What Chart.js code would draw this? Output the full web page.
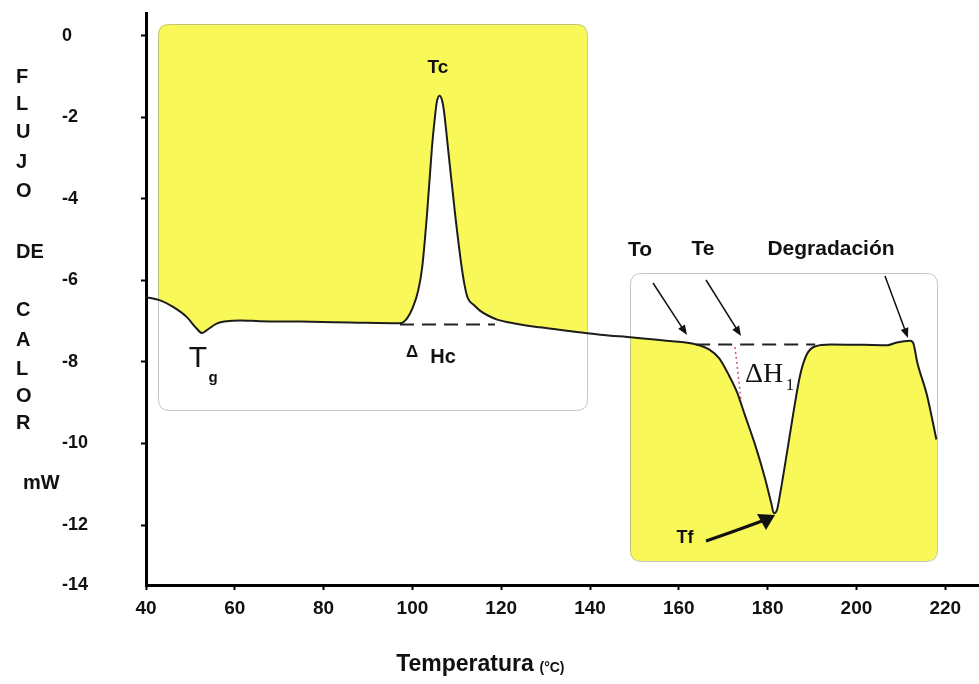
<!DOCTYPE html>
<html><head><meta charset="utf-8">
<script src="https://cdn.jsdelivr.net/npm/chart.js@4.4.1/dist/chart.umd.min.js"></script>
<style>html,body{margin:0;padding:0;background:#fff;}#wrap{width:979px;height:684px;}</style>
</head><body><div id="wrap"><canvas id="c" width="979" height="684"></canvas></div>
<script>
// ---- data ----
const temperatures = [40.0, 43.2, 46.1, 49.2, 51.4, 52.6, 53.7, 55.9, 58.2, 61.2, 65.7, 74.7, 86.0, 97.2, 98.8, 100.1, 101.3, 102.2, 103.3, 104.4, 105.1, 105.5, 106.1, 106.7, 107.1, 108.0, 109.6, 111.1, 111.9, 112.5, 113.9, 115.2, 117.0, 119.1, 122.7, 128.7, 136.2, 142.3, 149.7, 157.1, 163.9, 166.8, 169.1, 171.3, 173.1, 174.9, 177.2, 179.4, 180.8, 181.4, 182.1, 182.8, 184.3, 185.7, 187.3, 188.7, 190.6, 194.3, 201.7, 206.9, 209.1, 212.1, 212.8, 213.7, 215.9, 218.0];
const heatFlow = [-6.41, -6.49, -6.65, -6.90, -7.18, -7.29, -7.22, -7.06, -7.00, -6.98, -7.00, -7.01, -7.03, -7.05, -6.93, -6.66, -6.25, -5.68, -4.36, -2.74, -1.96, -1.62, -1.47, -1.59, -1.84, -2.74, -4.36, -5.68, -6.20, -6.44, -6.61, -6.74, -6.86, -6.96, -7.05, -7.15, -7.25, -7.33, -7.40, -7.48, -7.57, -7.69, -7.91, -8.33, -8.74, -9.31, -10.04, -10.85, -11.46, -11.71, -11.63, -11.24, -10.26, -9.31, -8.33, -7.84, -7.62, -7.57, -7.58, -7.59, -7.52, -7.48, -7.54, -8.01, -8.82, -9.90];
const crystBaseTemps = [97.2, 118.6];
const crystBaseFlow = [-7.08, -7.08];
const meltBaseTemps = [163.9, 190.7];
const meltBaseFlow = [-7.57, -7.57];
const xTickValues = [40, 60, 80, 100, 120, 140, 160, 180, 200, 220];
const yTickValues = [0, -2, -4, -6, -8, -10, -12, -14];
const yTickLabels = ['0', '-2', '-4', '-6', '-8', '-10', '-12', '-14'];
const yTitleLetters = ['F', 'L', 'U', 'J', 'O', 'DE', 'C', 'A', 'L', 'O', 'R', 'mW'];

const SANS = '"Liberation Sans", Arial, sans-serif';
const SERIF = '"Liberation Serif", "Times New Roman", serif';
const YELLOW = 'rgb(248,248,88)';

function pts(xs, ys) { return xs.map((x, i) => ({x: x, y: ys[i]})); }

function rrPath(ctx, x, y, w, h, r) {
  ctx.beginPath();
  ctx.moveTo(x + r, y);
  ctx.lineTo(x + w - r, y);
  ctx.quadraticCurveTo(x + w, y, x + w, y + r);
  ctx.lineTo(x + w, y + h - r);
  ctx.quadraticCurveTo(x + w, y + h, x + w - r, y + h);
  ctx.lineTo(x + r, y + h);
  ctx.quadraticCurveTo(x, y + h, x, y + h - r);
  ctx.lineTo(x, y + r);
  ctx.quadraticCurveTo(x, y, x + r, y);
  ctx.closePath();
}

const panels = [
  {x: 158, y: 24, w: 429, h: 386, above: true},
  {x: 630, y: 273, w: 307, h: 288, above: false}
];

const panelPlugin = {
  id: 'panels',
  beforeDatasetsDraw(chart) {
    const ctx = chart.ctx;
    const line = chart.getDatasetMeta(0).dataset;
    line.updateControlPoints(chart.chartArea, 'x');
    const p0 = line.points[0], pN = line.points[line.points.length - 1];
    panels.forEach(p => {
      ctx.save();
      rrPath(ctx, p.x, p.y, p.w, p.h, 11);
      ctx.fillStyle = '#fff';
      ctx.fill();
      rrPath(ctx, p.x, p.y, p.w, p.h, 11);
      ctx.clip();
      ctx.beginPath();
      line.path(ctx);
      const edge = p.above ? p.y - 10 : p.y + p.h + 10;
      ctx.lineTo(pN.x + 20, pN.y);
      ctx.lineTo(pN.x + 20, edge);
      ctx.lineTo(p0.x - 20, edge);
      ctx.lineTo(p0.x - 20, p0.y);
      ctx.closePath();
      ctx.fillStyle = YELLOW;
      ctx.fill();
      ctx.restore();
      ctx.save();
      rrPath(ctx, p.x + 0.5, p.y + 0.5, p.w, p.h, 11);
      ctx.strokeStyle = 'rgba(150,150,150,0.55)';
      ctx.lineWidth = 1;
      ctx.stroke();
      ctx.restore();
    });
  },
  afterDatasetsDraw(chart) {
    const ctx = chart.ctx;
    ctx.save();
    ctx.fillStyle = '#111';
    ctx.strokeStyle = '#111';
    ctx.textBaseline = 'middle';
    ctx.textAlign = 'center';
    function txt(s, x, y, font, align) {
      ctx.font = font; ctx.textAlign = align || 'center'; ctx.fillText(s, x, y);
    }
    function arrow(x1, y1, x2, y2, lw, hl, hw) {
      const a = Math.atan2(y2 - y1, x2 - x1);
      ctx.lineWidth = lw;
      ctx.beginPath();
      ctx.moveTo(x1, y1);
      ctx.lineTo(x2 - Math.cos(a) * hl * 0.8, y2 - Math.sin(a) * hl * 0.8);
      ctx.stroke();
      ctx.beginPath();
      ctx.moveTo(x2, y2);
      ctx.lineTo(x2 - hl * Math.cos(a) + hw * Math.sin(a), y2 - hl * Math.sin(a) - hw * Math.cos(a));
      ctx.lineTo(x2 - hl * Math.cos(a) - hw * Math.sin(a), y2 - hl * Math.sin(a) + hw * Math.cos(a));
      ctx.closePath();
      ctx.fill();
    }
    // crystallisation panel labels
    txt('Tc', 438, 68, 'bold 19px ' + SANS);
    txt('T', 198, 359, '30px ' + SANS);
    txt('g', 213, 378, 'bold 15px ' + SANS);
    txt('\u0394', 412, 352, 'bold 17px ' + SANS);
    txt('Hc', 443, 357, 'bold 20px ' + SANS);
    // melting panel labels
    txt('To', 640, 250, 'bold 21px ' + SANS);
    txt('Te', 703, 249, 'bold 21px ' + SANS);
    txt('Degradaci\u00f3n', 831, 249, 'bold 21px ' + SANS);
    txt('Tf', 685, 538, 'bold 18px ' + SANS);
    txt('\u0394H', 764, 375, '28px ' + SERIF);
    txt('1', 790, 386, '17px ' + SERIF);
    arrow(653, 283, 687, 335, 1.5, 10, 4);
    arrow(706, 280, 741, 336, 1.5, 10, 4);
    arrow(885, 276, 908, 338, 1.5, 10, 4);
    // Tf curved arrow
    ctx.lineWidth = 3;
    ctx.beginPath();
    ctx.moveTo(706, 541);
    ctx.quadraticCurveTo(738, 530, 762, 521);
    ctx.stroke();
    ctx.beginPath();
    ctx.moveTo(775, 515);
    ctx.lineTo(757, 514);
    ctx.lineTo(766, 530);
    ctx.closePath();
    ctx.fill();
    // red dotted bound of DeltaH1
    ctx.strokeStyle = 'rgba(200,60,70,0.85)';
    ctx.lineWidth = 1.5;
    ctx.setLineDash([2, 3]);
    ctx.beginPath();
    ctx.moveTo(735, 347);
    ctx.lineTo(741, 400);
    ctx.stroke();
    ctx.setLineDash([]);
    // axis titles
    ctx.fillStyle = '#111';
    const ys = [77, 104, 132, 162, 191, 252, 310, 340, 369, 396, 423, 483];
    yTitleLetters.forEach((s, i) => {
      txt(s, s === 'mW' ? 23 : 16, ys[i], 'bold 20px ' + SANS, 'left');
    });
    txt('Temperatura', 465, 665, 'bold 23px ' + SANS);
    txt('(\u00b0C)', 552, 668, 'bold 14px ' + SANS);
    ctx.restore();
  }
};

new Chart(document.getElementById('c'), {
  type: 'line',
  data: {
    datasets: [
      {data: pts(temperatures, heatFlow), borderColor: '#1d1d1d', borderWidth: 2, pointRadius: 0,
       cubicInterpolationMode: 'monotone', fill: false},
      {data: pts(crystBaseTemps, crystBaseFlow), borderColor: '#222', borderWidth: 2, borderDash: [14, 8],
       pointRadius: 0, fill: false},
      {data: pts(meltBaseTemps, meltBaseFlow), borderColor: '#222', borderWidth: 2, borderDash: [14, 8],
       pointRadius: 0, fill: false}
    ]
  },
  options: {
    responsive: false,
    animation: false,
    events: [],
    layout: {padding: {left: 62, top: 13, right: 0, bottom: 0}},
    plugins: {legend: {display: false}, tooltip: {enabled: false}},
    scales: {
      x: {
        type: 'linear', position: 'bottom', min: 40, max: 227.6,
        border: {color: '#000', width: 3},
        grid: {drawOnChartArea: false, drawTicks: true, tickLength: 5, tickWidth: 2, tickColor: '#000'},
        ticks: {color: '#111', font: {family: SANS, size: 19, weight: 'bold'}, padding: 7,
                maxRotation: 0, callback: v => String(v)},
        afterBuildTicks: s => { s.ticks = xTickValues.map(v => ({value: v})); },
        afterFit: s => { s.height = 99; }
      },
      y: {
        type: 'linear', position: 'left', min: -13.47, max: 0.54,
        border: {color: '#000', width: 3},
        grid: {drawOnChartArea: false, drawTicks: true, tickLength: 5, tickWidth: 2,
               tickColor: c => (c.tick && c.tick.value <= -13.4) ? 'rgba(0,0,0,0)' : '#000'},
        ticks: {color: '#111', font: {family: SANS, size: 18, weight: 'bold'}, crossAlign: 'far',
                callback: (v, i) => yTickLabels[i]},
        afterBuildTicks: s => { s.ticks = yTickValues.map(v => ({value: Math.max(v, -13.47)})); },
        afterFit: s => { s.width = 84; }
      }
    }
  },
  plugins: [panelPlugin]
});
</script></body></html>
